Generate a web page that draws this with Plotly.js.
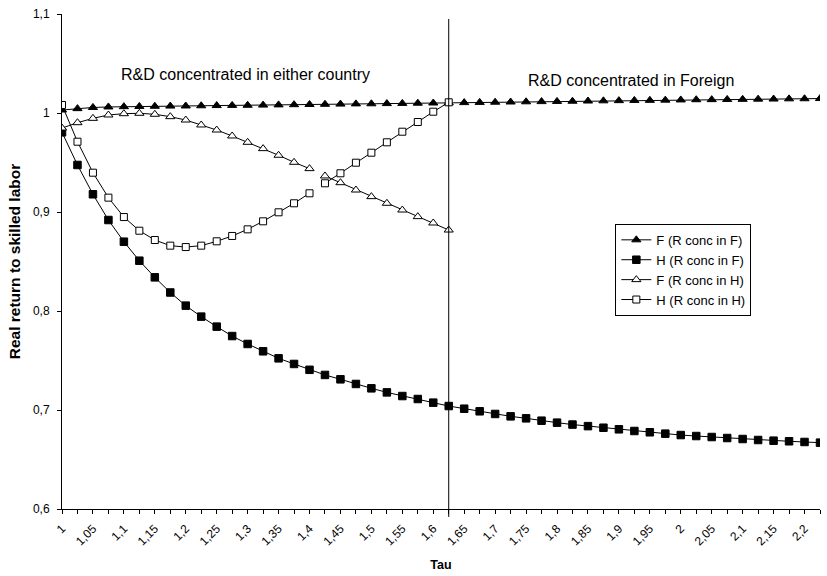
<!DOCTYPE html>
<html>
<head>
<meta charset="utf-8">
<script src="https://cdn.plot.ly/plotly-3.0.1.min.js"></script>
<style>html,body{margin:0;padding:0;background:#fff;}#chart{width:827px;height:576px;}</style>
</head>
<body>
<div id="chart"></div>
<script>
// Tau categories: 1 to 2.225 in steps of 0.025
const tau = [1,1.025,1.05,1.075,1.1,1.125,1.15,1.175,1.2,1.225,1.25,1.275,1.3,1.325,1.35,1.375,1.4,1.425,1.45,1.475,1.5,1.525,1.55,1.575,1.6,1.625,1.65,1.675,1.7,1.725,1.75,1.775,1.8,1.825,1.85,1.875,1.9,1.925,1.95,1.975,2,2.025,2.05,2.075,2.1,2.125,2.15,2.175,2.2,2.225];

const fConcF = [1.0030,1.0044,1.0056,1.0061,1.0064,1.0066,1.0068,1.0070,1.0071,1.0073,1.0075,1.0077,1.0078,1.0080,1.0082,1.0084,1.0086,1.0088,1.0090,1.0092,1.0093,1.0095,1.0097,1.0099,1.0101,1.0103,1.0105,1.0107,1.0109,1.0111,1.0113,1.0115,1.0117,1.0119,1.0121,1.0123,1.0125,1.0127,1.0128,1.0130,1.0132,1.0134,1.0135,1.0137,1.0138,1.0140,1.0141,1.0143,1.0144,1.0146];

const hConcF = [0.9805,0.9475,0.9179,0.8919,0.8700,0.8508,0.8340,0.8187,0.8054,0.7943,0.7842,0.7747,0.7667,0.7593,0.7522,0.7465,0.7406,0.7354,0.7310,0.7263,0.7219,0.7178,0.7141,0.7111,0.7074,0.7040,0.7013,0.6987,0.6960,0.6936,0.6916,0.6892,0.6872,0.6853,0.6837,0.6821,0.6805,0.6788,0.6775,0.6761,0.6747,0.6737,0.6727,0.6717,0.6707,0.6697,0.6690,0.6684,0.6677,0.6670];

// R&D concentrated in H: two separate segments (break between 1.4 and 1.425)
const tauH1 = [1,1.025,1.05,1.075,1.1,1.125,1.15,1.175,1.2,1.225,1.25,1.275,1.3,1.325,1.35,1.375,1.4];
const tauH2 = [1.425,1.45,1.475,1.5,1.525,1.55,1.575,1.6,1.625];
const fConcH1 = [0.9848,0.9902,0.9946,0.9980,0.9993,0.9997,0.9987,0.9963,0.9929,0.9879,0.9828,0.9768,0.9704,0.9640,0.9573,0.9502,0.9438];
const fConcH2 = [0.9364,0.9296,0.9222,0.9155,0.9088,0.9020,0.8953,0.8889,0.8818];
const hConcH1 = [1.0081,0.9710,0.9397,0.9145,0.8949,0.8811,0.8717,0.8660,0.8646,0.8660,0.8704,0.8758,0.8825,0.8906,0.8997,0.9088,0.9189];
const hConcH2 = [0.9290,0.9391,0.9498,0.9599,0.9704,0.9811,0.9909,1.0013,1.0108];

const xTickVals = [1,1.05,1.1,1.15,1.2,1.25,1.3,1.35,1.4,1.45,1.5,1.55,1.6,1.65,1.7,1.75,1.8,1.85,1.9,1.95,2,2.05,2.1,2.15,2.2];
const xTickText = ["1","1,05","1,1","1,15","1,2","1,25","1,3","1,35","1,4","1,45","1,5","1,55","1,6","1,65","1,7","1,75","1,8","1,85","1,9","1,95","2","2,05","2,1","2,15","2,2"];
const yTickVals = [0.6,0.7,0.8,0.9,1,1.1];
const yTickText = ["0,6","0,7","0,8","0,9","1","1,1"];
const regimeBoundary = 1.625;

const seriesNames = ["F (R conc in F)","H (R conc in F)","F (R conc in H)","H (R conc in H)"];

const lineStyle = {color:'#000', width:1};
function mk(sym, fill, size){ return {symbol:sym, size:size, color:fill, line:{color:'#000', width:1}}; }

const traces = [
  {x:tau, y:fConcF, name:seriesNames[0], mode:'lines+markers', line:lineStyle, marker:mk('triangle-up','#000',8), legendgroup:'a'},
  {x:tau, y:hConcF, name:seriesNames[1], mode:'lines+markers', line:lineStyle, marker:mk('square','#000',7.5), legendgroup:'b'},
  {x:tauH1, y:fConcH1, name:seriesNames[2], mode:'lines+markers', line:lineStyle, marker:mk('triangle-up','#fff',8), legendgroup:'c'},
  {x:tauH1, y:hConcH1, name:seriesNames[3], mode:'lines+markers', line:lineStyle, marker:mk('square','#fff',7), legendgroup:'d'},
  {x:tauH2, y:fConcH2, name:seriesNames[2], mode:'lines+markers', line:lineStyle, marker:mk('triangle-up','#fff',8), legendgroup:'c', showlegend:false},
  {x:tauH2, y:hConcH2, name:seriesNames[3], mode:'lines+markers', line:lineStyle, marker:mk('square','#fff',7), legendgroup:'d', showlegend:false}
];

const font = 'Arial, "Liberation Sans", sans-serif';

const layout = {
  width:827, height:576,
  margin:{l:62, r:7, t:14, b:67},
  paper_bgcolor:'#fff', plot_bgcolor:'#fff',
  font:{family:font, size:12, color:'#000'},
  showlegend:true,
  legend:{x:0.73, y:0.576, xanchor:'left', yanchor:'top', bordercolor:'#000', borderwidth:1, bgcolor:'#fff', font:{size:13}, tracegroupgap:0},
  xaxis:{
    range:[1,2.225], showgrid:false, zeroline:false, showline:true, linecolor:'#000', linewidth:1,
    tickvals:xTickVals, ticktext:xTickText, tickangle:-45, ticks:'outside', ticklen:4, tickcolor:'#000',
    minor:{dtick:0.025, tick0:1, ticks:'outside', ticklen:4, tickcolor:'#000', showgrid:false},
    tickfont:{size:12}, ticklabelstandoff:3,
    title:{text:'<b>Tau</b>', font:{size:12.5}, standoff:12}
  },
  yaxis:{
    range:[0.6,1.1], showgrid:false, zeroline:false, showline:true, linecolor:'#000', linewidth:1,
    tickvals:yTickVals, ticktext:yTickText, ticks:'outside', ticklen:4, tickcolor:'#000',
    tickfont:{size:12}, ticklabelstandoff:5,
    title:{text:'<b>Real return to skilled labor</b>', font:{size:15.5}, standoff:8}
  },
  shapes:[{type:'line', xref:'x', yref:'paper', x0:regimeBoundary, x1:regimeBoundary, y0:-0.016, y1:0.99, line:{color:'#000', width:1}}],
  annotations:[
    {text:'R&D concentrated in either country', xref:'paper', yref:'paper', x:0.2427, y:0.877, showarrow:false, font:{size:16}, xanchor:'center', yanchor:'middle'},
    {text:'R&D concentrated in Foreign', xref:'paper', yref:'paper', x:0.751, y:0.865, showarrow:false, font:{size:16}, xanchor:'center', yanchor:'middle'}
  ]
};

Plotly.newPlot('chart', traces, layout, {displayModeBar:false, staticPlot:true});
</script>
</body>
</html>
